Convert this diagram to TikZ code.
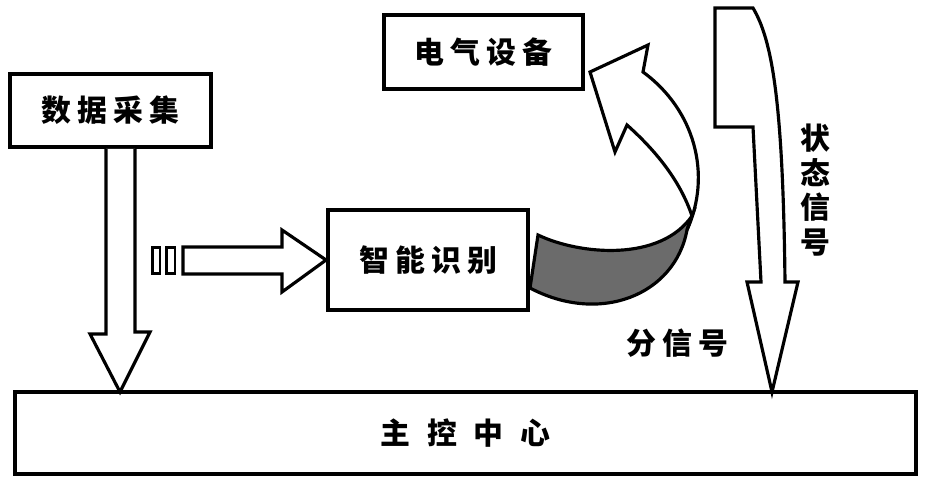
\documentclass[tikz,border=0pt]{standalone}
\usepackage{fontspec}
\newfontfamily\cjk{Noto Sans CJK SC}
\usetikzlibrary{calc}
\definecolor{bandgray}{gray}{0.42}
\newcommand{\gp}{\hspace{3.5pt}}

\begin{document}
\begin{tikzpicture}[
    x=0.02cm, y=-0.02cm,
    box/.style={rectangle, draw, line width=2.2pt, fill=white, inner sep=0pt, font=\cjk\bfseries\fontsize{17}{20}\selectfont},
    txt/.style={inner sep=0pt, font=\cjk\bfseries\fontsize{17}{19.8}\selectfont},
    hollow/.style={draw, line width=1.8pt, fill=white, line join=miter},
    band/.style={draw, line width=1.8pt, fill=bandgray, line join=miter}
]
\useasboundingbox (0,0) rectangle (930,480);

\node[box, minimum width=4.02cm, minimum height=1.46cm] (collect) at (110.5,110.5) {数\gp 据\gp 采\gp 集};
\node[box, minimum width=3.98cm, minimum height=1.48cm] (device) at (483.5,52) {电\gp 气\gp 设\gp 备};
\node[box, minimum width=4.0cm, minimum height=2.0cm] (smart) at (428,260) {智\gp 能\gp 识\gp 别};
\node[box, minimum width=18.02cm, minimum height=1.64cm] (main) at (465.5,433) {主\hspace{9.6pt}控\hspace{9.6pt}中\hspace{9.6pt}心};

\node[txt] (sub) at (677,343) {分\gp 信\gp 号};
\node[txt, align=center] (state) at (815,190) {状\\态\\信\\号};

\coordinate (tipA) at (120,392);
\coordinate (tipB) at (772,392);

% data collection -> main control
\draw[hollow] ($(collect.south -| tipA)+(-14,0)$) -- ++(0,185) -- ++(-16,0) -- (tipA)
    -- ++(30,-60) -- ++(-15,0) -- ($(collect.south -| tipA)+(15,0)$);

% input -> smart recognition
\draw[hollow, line width=1.6pt] (152.5,247.5) rectangle (160,273.5);
\draw[hollow, line width=1.6pt] (166.5,247.5) rectangle (175,273.5);
\draw[hollow] (183,247) -- (282,247) -- (282,230) -- (smart.west) -- (282,292) -- (282,274) -- (183,274) -- cycle;

% smart recognition -> device
\draw[band] (538,235) .. controls (580,255) and (660,262) .. (692,216) -- (687,230)
    .. controls (675,295) and (600,325) .. (530,288) -- cycle;
\draw[hollow] (687,230) .. controls (712,175) and (695,110) .. (643,72) -- (648,45) -- (590,72)
    -- (615,152) -- (627,125) .. controls (655,150) and (680,180) .. (692,216) -- cycle;

% state signal -> main control
\draw[hollow] (715,8) -- (753,8) .. controls (772,40) and (783,100) .. (785,282) -- (798,282) -- (tipB)
    -- (747,282) -- (761,282) -- (753,127) -- (715,127) -- cycle;
\end{tikzpicture}
\end{document}
